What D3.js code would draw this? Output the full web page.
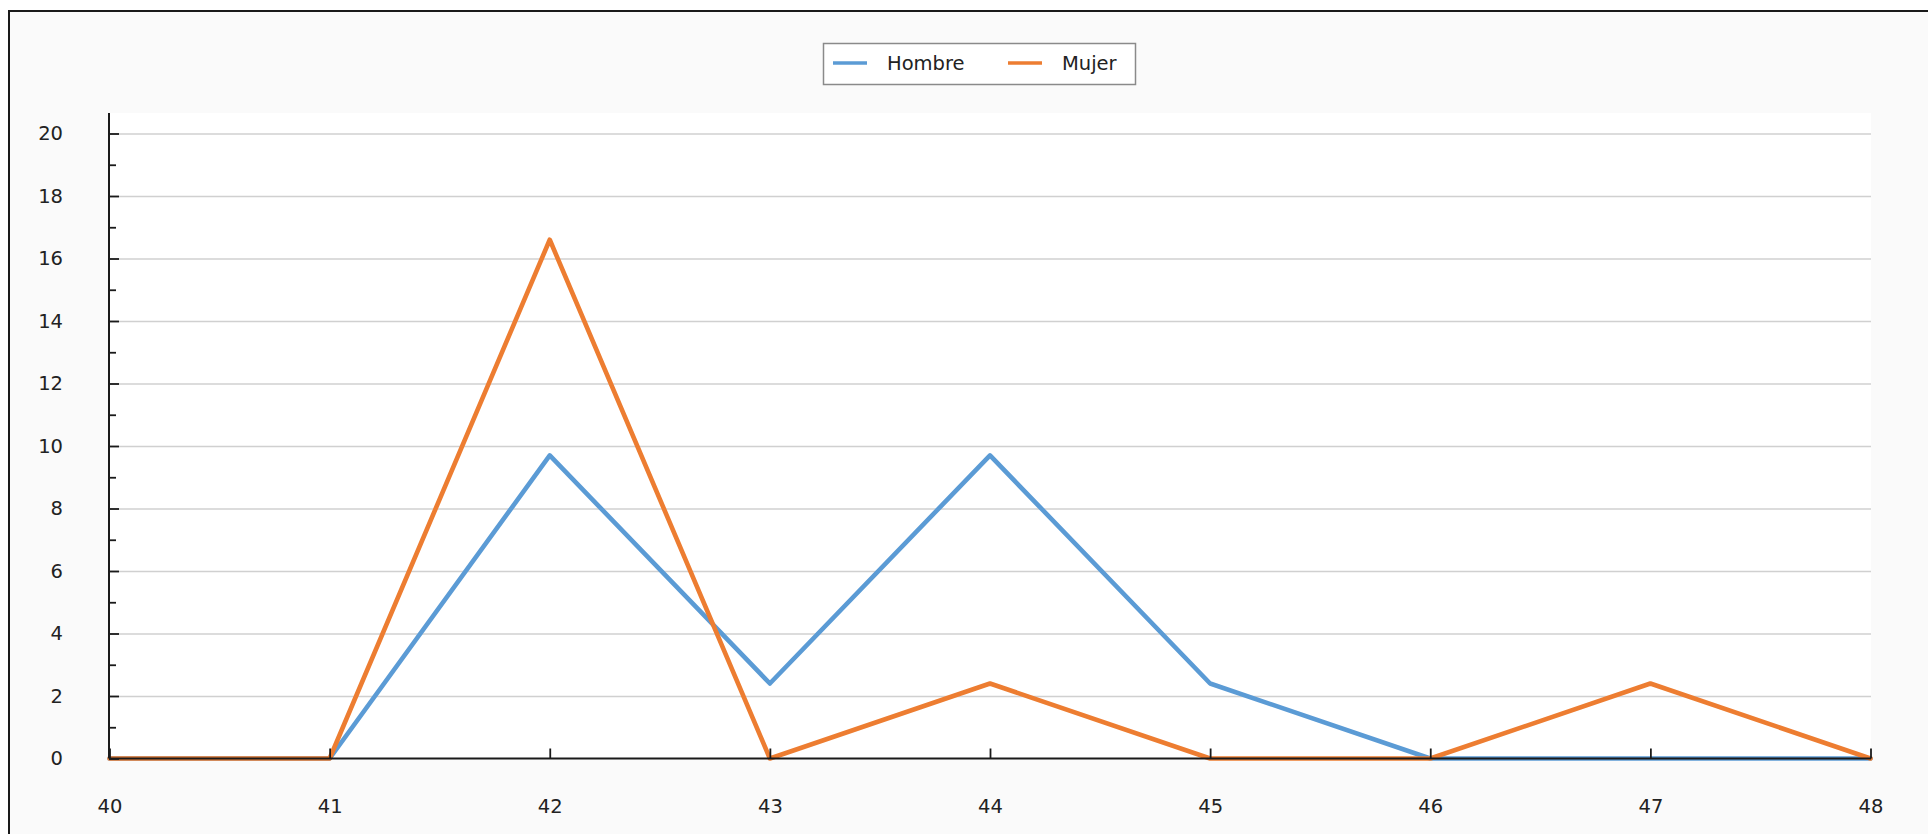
<!DOCTYPE html>
<html>
<head>
<meta charset="utf-8">
<script src="https://cdn.jsdelivr.net/npm/d3@7"></script>
<style>
  html, body { margin: 0; padding: 0; background: #ffffff; }
  svg { display: block; }
  text { font-family: "DejaVu Sans", sans-serif; fill: #222; }
</style>
</head>
<body>
<svg id="chart" width="1928" height="834"></svg>
<script>
const categories = [40, 41, 42, 43, 44, 45, 46, 47, 48];
const hombre = [0, 0, 9.7, 2.4, 9.7, 2.4, 0, 0, 0];
const mujer  = [0, 0, 16.6, 0, 2.4, 0, 0, 2.4, 0];
const seriesNames = ["Hombre", "Mujer"];
const seriesColors = ["#5b9bd5", "#ed7d31"];
const yTicks = [0, 2, 4, 6, 8, 10, 12, 14, 16, 18, 20];
const yMinorTicks = [1, 3, 5, 7, 9, 11, 13, 15, 17, 19];

const svg = d3.select("#chart");
const W = 1928, H = 834;

// Outer frame
svg.append("rect").attr("x", 9).attr("y", 11).attr("width", W + 20).attr("height", H + 20)
  .attr("fill", "#fafafa").attr("stroke", "#1a1a1a").attr("stroke-width", 2);

const plot = { left: 109, right: 1871, top: 113, bottom: 758.5 };

const x = d3.scaleLinear().domain([40, 48]).range([109.5, 1870.5]);
const y = d3.scaleLinear().domain([0, 20]).range([758.5, 133.5]);

// Plot background
svg.append("rect").attr("x", plot.left).attr("y", plot.top)
  .attr("width", plot.right - plot.left).attr("height", plot.bottom - plot.top)
  .attr("fill", "#ffffff");

// Gridlines
const grid = svg.append("g").attr("transform", `translate(${plot.left},0)`)
  .call(d3.axisLeft(y).tickValues(yTicks.filter(d => d > 0)).tickSize(-(plot.right - plot.left)).tickFormat(""));
grid.select(".domain").remove();
grid.selectAll("line").attr("stroke", "#d0d0d0").attr("stroke-width", 1.6);

// Series lines
const line = d3.line().x((d, i) => x(categories[i])).y(d => y(d));
[hombre, mujer].forEach((vals, si) => {
  svg.append("path").datum(vals)
    .attr("d", line)
    .attr("fill", "none")
    .attr("stroke", seriesColors[si])
    .attr("stroke-width", 4.6)
    .attr("stroke-linejoin", "round")
    .attr("stroke-linecap", "round");
});

// Y axis
const yAxis = svg.append("g").attr("transform", `translate(${plot.left},0)`)
  .call(d3.axisLeft(y).tickValues(yTicks).tickSizeInner(-10).tickSizeOuter(0).tickPadding(46));
yAxis.select(".domain").remove();
yAxis.selectAll("line").attr("stroke", "#1a1a1a").attr("stroke-width", 1.8);
yAxis.selectAll("text").attr("font-size", 19.5).attr("font-family", "DejaVu Sans, sans-serif").attr("fill", "#1e1e1e");

const yMinor = svg.append("g").attr("transform", `translate(${plot.left},0)`)
  .call(d3.axisLeft(y).tickValues(yMinorTicks).tickSizeInner(-7).tickSizeOuter(0).tickFormat(""));
yMinor.select(".domain").remove();
yMinor.selectAll("line").attr("stroke", "#1a1a1a").attr("stroke-width", 1.8);

svg.append("line").attr("x1", plot.left).attr("x2", plot.left)
  .attr("y1", plot.top).attr("y2", plot.bottom)
  .attr("stroke", "#1a1a1a").attr("stroke-width", 2);

// X axis
const xAxis = svg.append("g").attr("transform", `translate(0,${plot.bottom})`)
  .call(d3.axisBottom(x).tickValues(categories).tickFormat(d3.format("d")).tickSizeInner(-10).tickSizeOuter(0).tickPadding(41));
xAxis.select(".domain").remove();
xAxis.selectAll("line").attr("stroke", "#1a1a1a").attr("stroke-width", 1.8);
xAxis.selectAll("text").attr("font-size", 19.5).attr("font-family", "DejaVu Sans, sans-serif").attr("fill", "#1e1e1e");

svg.append("line").attr("x1", plot.left).attr("x2", plot.right)
  .attr("y1", plot.bottom).attr("y2", plot.bottom)
  .attr("stroke", "#1a1a1a").attr("stroke-width", 1.8);

// Legend
const legend = svg.append("g");
legend.append("rect").attr("x", 823.5).attr("y", 43.5).attr("width", 312).attr("height", 41)
  .attr("fill", "#ffffff").attr("stroke", "#8a8a8a").attr("stroke-width", 1.5);
const legX = [833, 1008];
seriesNames.forEach((name, i) => {
  legend.append("line").attr("x1", legX[i]).attr("x2", legX[i] + 34)
    .attr("y1", 63).attr("y2", 63)
    .attr("stroke", seriesColors[i]).attr("stroke-width", 3.5);
  legend.append("text").attr("x", legX[i] + 54).attr("y", 63).attr("dy", "0.35em")
    .attr("font-size", 19.5).attr("fill", "#1e1e1e").text(name);
});
</script>
</body>
</html>
